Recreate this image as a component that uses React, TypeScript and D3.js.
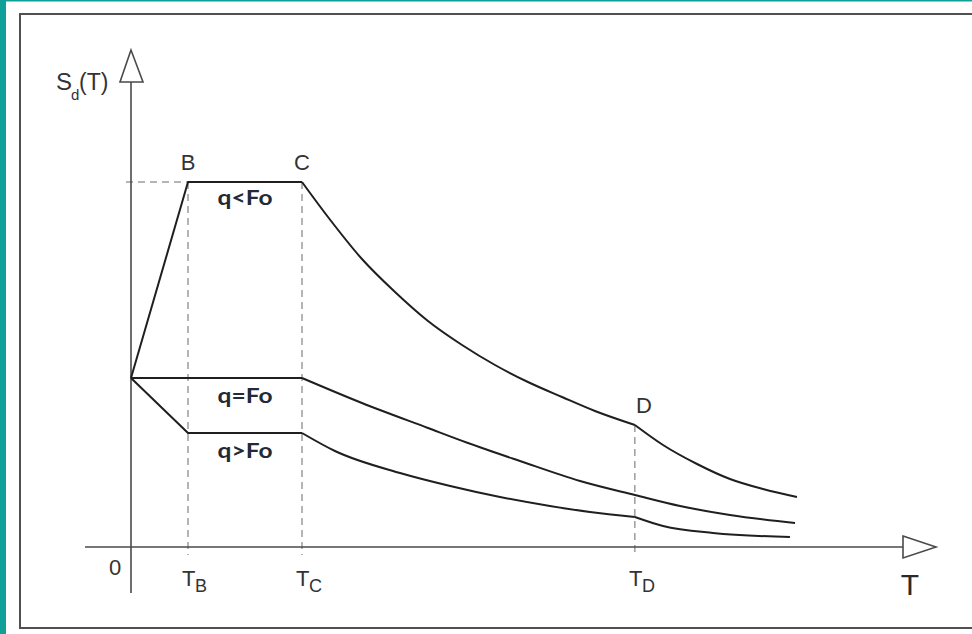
import React from "react";
import * as d3 from "d3";

// Design response spectrum Sd(T) for three behaviour-factor cases
// T in arbitrary period units, Sd in arbitrary spectral units.

const T_B = 0.5;
const T_C = 1.5;
const T_D = 4.42;
const SD_PLATEAU = 3.65;
const SD_AT_D = 1.22;

// q < Fo : rising branch, plateau, 1/T branch, 1/T^2 branch
const upperRise: [number, number][] = [[0, 1.69], [0.5, 3.65], [1.5, 3.65]];
const upperMid: [number, number][] = [
  [1.5, 3.65], [1.728, 3.3], [2.026, 2.88], [2.316, 2.55], [2.605, 2.26],
  [2.904, 2.02], [3.193, 1.82], [3.482, 1.65], [3.781, 1.5], [4.07, 1.36], [4.42, 1.22],
];
const upperTail: [number, number][] = [
  [4.42, 1.22], [4.667, 1.02], [4.965, 0.83], [5.254, 0.68], [5.544, 0.58], [5.842, 0.5],
];

// q = Fo
const equalFlat: [number, number][] = [[0, 1.69], [1.5, 1.69]];
const equalDecay: [number, number][] = [
  [1.5, 1.69], [2.026, 1.44], [2.605, 1.19], [2.956, 1.04], [3.412, 0.86], [3.939, 0.66],
  [4.42, 0.52], [4.816, 0.41], [5.254, 0.32], [5.825, 0.24],
];

// q > Fo
const lowerDrop: [number, number][] = [[0, 1.69], [0.5, 1.14], [1.5, 1.14]];
const lowerMid: [number, number][] = [
  [1.5, 1.14], [1.789, 0.96], [2.36, 0.74], [2.8, 0.61], [3.237, 0.5], [3.675, 0.41], [4.026, 0.35], [4.42, 0.3],
];
const lowerTail: [number, number][] = [
  [4.42, 0.3], [4.667, 0.21], [5.105, 0.14], [5.78, 0.1],
];

const curveLabels = [
  { text: "q<Fo", t: 0.76, sd: 3.42 },
  { text: "q=Fo", t: 0.76, sd: 1.44 },
  { text: "q>Fo", t: 0.76, sd: 0.89 },
];

const pointLabels = [
  { text: "B", t: T_B, sd: 3.77 },
  { text: "C", t: T_C, sd: 3.77 },
  { text: "D", t: 4.5, sd: 1.34 },
];

const periodTicks = [
  { main: "T", sub: "B", t: T_B },
  { main: "T", sub: "C", t: T_C },
  { main: "T", sub: "D", t: T_D },
];

const W = 972;
const H = 634;

export default function App() {
  const x = d3.scaleLinear().domain([0, 7]).range([131, 131 + 7 * 114]);
  const y = d3.scaleLinear().domain([0, 5]).range([547, 47]);

  const straight = d3
    .line<[number, number]>()
    .x((d) => x(d[0]))
    .y((d) => y(d[1]))
    .curve(d3.curveLinear);
  const smooth = d3
    .line<[number, number]>()
    .x((d) => x(d[0]))
    .y((d) => y(d[1]))
    .curve(d3.curveMonotoneX);

  const lineColor = "#1f1f1f";
  const axisColor = "#4a4a4a";
  const dashColor = "#6a6a6a";
  const textColor = "#333333";
  const sans = "'Liberation Sans', Arial, sans-serif";

  const x0 = x(0);
  const y0 = y(0);
  const yArrowBase = 82;
  const yArrowTip = 50;
  const xArrowBase = 903;
  const xArrowTip = 936;

  return (
    <svg
      width={W}
      height={H}
      style={{ position: "absolute", left: 0, top: 0, display: "block", background: "#ffffff" }}
    >
      {/* frame */}
      <rect x={0} y={0} width={6} height={H} fill="#10a09a" />
      <rect x={0} y={0} width={W} height={1.5} fill="#10a09a" />
      <rect x={20} y={14} width={W} height={614} fill="none" stroke="#505050" strokeWidth={2} />

      {/* guide lines */}
      <g stroke={dashColor} strokeWidth={1} strokeDasharray="7,5" fill="none">
        <line x1={x0 - 5} x2={x(T_B)} y1={y(SD_PLATEAU)} y2={y(SD_PLATEAU)} />
        <line x1={x(T_B)} x2={x(T_B)} y1={y(SD_PLATEAU)} y2={y0 + 8} />
        <line x1={x(T_C)} x2={x(T_C)} y1={y(SD_PLATEAU)} y2={y0 + 8} />
        <line x1={x(T_D)} x2={x(T_D)} y1={y(SD_AT_D)} y2={y0 + 8} />
      </g>

      {/* axes */}
      <g stroke={axisColor} strokeWidth={1.6} fill="none">
        <line x1={x0} x2={x0} y1={yArrowBase} y2={y0 + 46} />
        <polygon
          points={`${x0},${yArrowTip} ${x0 - 11},${yArrowBase} ${x0 + 12},${yArrowBase}`}
          fill="#ffffff"
        />
        <line x1={85} x2={xArrowBase} y1={y0} y2={y0} />
        <polygon
          points={`${xArrowBase},${y0 - 11} ${xArrowTip},${y0} ${xArrowBase},${y0 + 11}`}
          fill="#ffffff"
        />
      </g>

      {/* spectra */}
      <g stroke={lineColor} strokeWidth={2} fill="none" strokeLinejoin="round">
        <path d={straight(upperRise) ?? ""} />
        <path d={smooth(upperMid) ?? ""} />
        <path d={smooth(upperTail) ?? ""} />
        <path d={straight(equalFlat) ?? ""} />
        <path d={smooth(equalDecay) ?? ""} />
        <path d={straight(lowerDrop) ?? ""} />
        <path d={smooth(lowerMid) ?? ""} />
        <path d={smooth(lowerTail) ?? ""} />
      </g>

      {/* curve labels */}
      {curveLabels.map((l) => (
        <text
          key={l.text}
          x={x(l.t)}
          y={y(l.sd)}
          fontFamily="Lato, 'Open Sans', sans-serif"
          fontWeight="bold"
          fontSize={20}
          fill="#232a36"
          textLength={55}
          lengthAdjust="spacingAndGlyphs"
        >
          {l.text}
        </text>
      ))}

      {/* point labels */}
      {pointLabels.map((l) => (
        <text
          key={l.text}
          x={x(l.t)}
          y={y(l.sd)}
          textAnchor="middle"
          fontFamily={sans}
          fontSize={22}
          fill={textColor}
        >
          {l.text}
        </text>
      ))}

      {/* axis titles */}
      <text x={56} y={90} fontFamily={sans} fontSize={24} fill={textColor}>
        S
      </text>
      <text x={71} y={100} fontFamily={sans} fontSize={15} fill={textColor}>
        d
      </text>
      <text x={79} y={90} fontFamily={sans} fontSize={23} fill={textColor}>
        (T)
      </text>
      <text x={910} y={595} textAnchor="middle" fontFamily={sans} fontSize={30} fill="#2a2a2a">
        T
      </text>

      {/* origin and period ticks */}
      <text x={115} y={575} textAnchor="middle" fontFamily={sans} fontSize={22} fill={textColor}>
        0
      </text>
      {periodTicks.map((p) => (
        <g key={p.sub} fontFamily={sans} fill={textColor}>
          <text x={x(p.t) - 6} y={586} fontSize={22}>
            {p.main}
          </text>
          <text x={x(p.t) + 7} y={592} fontSize={18}>
            {p.sub}
          </text>
        </g>
      ))}
    </svg>
  );
}
